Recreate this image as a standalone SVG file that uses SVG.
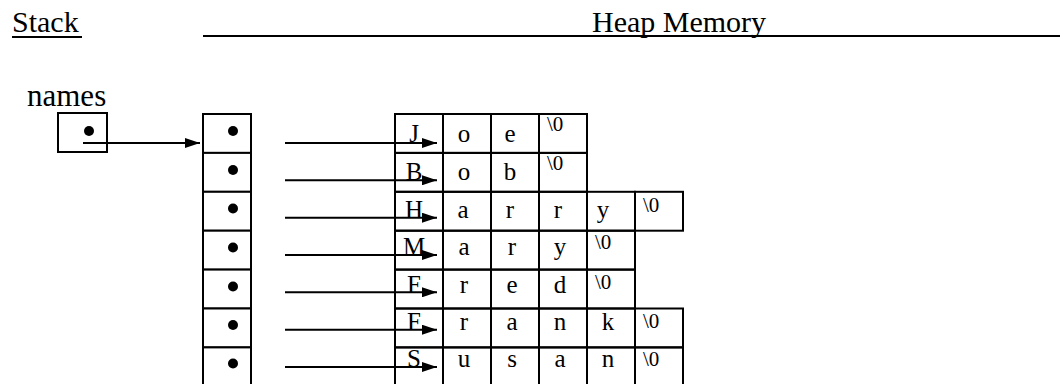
<svg xmlns="http://www.w3.org/2000/svg" width="1060" height="384" viewBox="0 0 1060 384">
<defs>
<style>
.t{font-family:"Liberation Serif","Times New Roman",serif;fill:#000}
.h{font-size:30px}
.c{font-size:25px;text-anchor:middle}
.z{font-size:21px}
.box{fill:#fff;stroke:#000;stroke-width:2}
.cell{fill:none;stroke:#000;stroke-width:2}
.rule{stroke:#000;stroke-width:2}
.arr{stroke:#000;stroke-width:2;fill:none;marker-end:url(#ah)}
.dot{fill:#000}
</style>
<marker id="ah" viewBox="0 0 15 10" refX="15" refY="5" markerWidth="15" markerHeight="10" markerUnits="userSpaceOnUse" orient="auto">
<path d="M0,0 L15,5 L0,10 z" fill="#000"/>
</marker>
</defs>
<rect width="1060" height="384" fill="#fff"/>

<g id="headers">
<text class="t h" x="12" y="32">Stack</text>
<line class="rule" x1="12" y1="37" x2="82" y2="37"/>
<line class="rule" x1="203" y1="36" x2="1060" y2="36"/>
<text class="t h" x="592" y="32">Heap Memory</text>
</g>

<g id="names-var">
<text class="t" x="27" y="106" style="font-size:31px">names</text>
<rect class="box" x="58" y="113" width="49" height="39"/>
<circle class="dot" cx="89" cy="131" r="5"/>
</g>

<g id="pointer-array">
<rect class="box" x="203" y="114" width="48" height="38.9"/>
<rect class="box" x="203" y="152.9" width="48" height="38.9"/>
<rect class="box" x="203" y="191.8" width="48" height="38.9"/>
<rect class="box" x="203" y="230.7" width="48" height="38.9"/>
<rect class="box" x="203" y="269.6" width="48" height="38.9"/>
<rect class="box" x="203" y="308.5" width="48" height="38.9"/>
<rect class="box" x="203" y="347.4" width="48" height="38.9"/>
<circle class="dot" cx="233" cy="131" r="5"/>
<circle class="dot" cx="233" cy="170" r="5"/>
<circle class="dot" cx="233" cy="208.5" r="5"/>
<circle class="dot" cx="233" cy="247.5" r="5"/>
<circle class="dot" cx="233" cy="286.5" r="5"/>
<circle class="dot" cx="233" cy="325" r="5"/>
<circle class="dot" cx="233" cy="363.5" r="5"/>
</g>

<g id="str-joe">
<rect class="cell" x="395" y="114" width="48" height="38.9"/>
<rect class="cell" x="443" y="114" width="48" height="38.9"/>
<rect class="cell" x="491" y="114" width="48" height="38.9"/>
<rect class="cell" x="539" y="114" width="48" height="38.9"/>
<text class="t c" x="414" y="142">J</text>
<text class="t c" x="464" y="142">o</text>
<text class="t c" x="510" y="142">e</text>
<text class="t z" x="547" y="131">\0</text>
</g>

<g id="str-bob">
<rect class="cell" x="395" y="152.9" width="48" height="38.9"/>
<rect class="cell" x="443" y="152.9" width="48" height="38.9"/>
<rect class="cell" x="491" y="152.9" width="48" height="38.9"/>
<rect class="cell" x="539" y="152.9" width="48" height="38.9"/>
<text class="t c" x="414" y="180">B</text>
<text class="t c" x="464" y="180">o</text>
<text class="t c" x="510" y="180">b</text>
<text class="t z" x="547" y="170">\0</text>
</g>

<g id="str-harry">
<rect class="cell" x="395" y="191.8" width="48" height="38.9"/>
<rect class="cell" x="443" y="191.8" width="48" height="38.9"/>
<rect class="cell" x="491" y="191.8" width="48" height="38.9"/>
<rect class="cell" x="539" y="191.8" width="48" height="38.9"/>
<rect class="cell" x="587" y="191.8" width="48" height="38.9"/>
<rect class="cell" x="635" y="191.8" width="48" height="38.9"/>
<text class="t c" x="414" y="218">H</text>
<text class="t c" x="463" y="218">a</text>
<text class="t c" x="510" y="218">r</text>
<text class="t c" x="558" y="218">r</text>
<text class="t c" x="603" y="218">y</text>
<text class="t z" x="643" y="212">\0</text>
</g>

<g id="str-mary">
<rect class="cell" x="395" y="230.7" width="48" height="38.9"/>
<rect class="cell" x="443" y="230.7" width="48" height="38.9"/>
<rect class="cell" x="491" y="230.7" width="48" height="38.9"/>
<rect class="cell" x="539" y="230.7" width="48" height="38.9"/>
<rect class="cell" x="587" y="230.7" width="48" height="38.9"/>
<text class="t c" x="414" y="255">M</text>
<text class="t c" x="464" y="255">a</text>
<text class="t c" x="512" y="255">r</text>
<text class="t c" x="560" y="255">y</text>
<text class="t z" x="595" y="249">\0</text>
</g>

<g id="str-fred">
<rect class="cell" x="395" y="269.6" width="48" height="38.9"/>
<rect class="cell" x="443" y="269.6" width="48" height="38.9"/>
<rect class="cell" x="491" y="269.6" width="48" height="38.9"/>
<rect class="cell" x="539" y="269.6" width="48" height="38.9"/>
<rect class="cell" x="587" y="269.6" width="48" height="38.9"/>
<text class="t c" x="414" y="293">F</text>
<text class="t c" x="464" y="293">r</text>
<text class="t c" x="512" y="293">e</text>
<text class="t c" x="560" y="293">d</text>
<text class="t z" x="595" y="289">\0</text>
</g>

<g id="str-frank">
<rect class="cell" x="395" y="308.5" width="48" height="38.9"/>
<rect class="cell" x="443" y="308.5" width="48" height="38.9"/>
<rect class="cell" x="491" y="308.5" width="48" height="38.9"/>
<rect class="cell" x="539" y="308.5" width="48" height="38.9"/>
<rect class="cell" x="587" y="308.5" width="48" height="38.9"/>
<rect class="cell" x="635" y="308.5" width="48" height="38.9"/>
<text class="t c" x="414" y="330">F</text>
<text class="t c" x="464" y="330">r</text>
<text class="t c" x="512" y="330">a</text>
<text class="t c" x="560" y="330">n</text>
<text class="t c" x="608" y="330">k</text>
<text class="t z" x="643" y="328">\0</text>
</g>

<g id="str-susan">
<rect class="cell" x="395" y="347.4" width="48" height="38.9"/>
<rect class="cell" x="443" y="347.4" width="48" height="38.9"/>
<rect class="cell" x="491" y="347.4" width="48" height="38.9"/>
<rect class="cell" x="539" y="347.4" width="48" height="38.9"/>
<rect class="cell" x="587" y="347.4" width="48" height="38.9"/>
<rect class="cell" x="635" y="347.4" width="48" height="38.9"/>
<text class="t c" x="414" y="367">S</text>
<text class="t c" x="464" y="367">u</text>
<text class="t c" x="512" y="367">s</text>
<text class="t c" x="560" y="367">a</text>
<text class="t c" x="608" y="367">n</text>
<text class="t z" x="643" y="366">\0</text>
</g>

<g id="connectors">
<line class="arr" x1="83" y1="143" x2="200" y2="143"/>
<line class="arr" x1="285" y1="143" x2="437" y2="143"/>
<line class="arr" x1="285" y1="180.3" x2="437" y2="180.3"/>
<line class="arr" x1="285" y1="217.7" x2="437" y2="217.7"/>
<line class="arr" x1="285" y1="255" x2="437" y2="255"/>
<line class="arr" x1="285" y1="292.3" x2="437" y2="292.3"/>
<line class="arr" x1="285" y1="329.7" x2="437" y2="329.7"/>
<line class="arr" x1="285" y1="367" x2="437" y2="367"/>
</g>
</svg>
